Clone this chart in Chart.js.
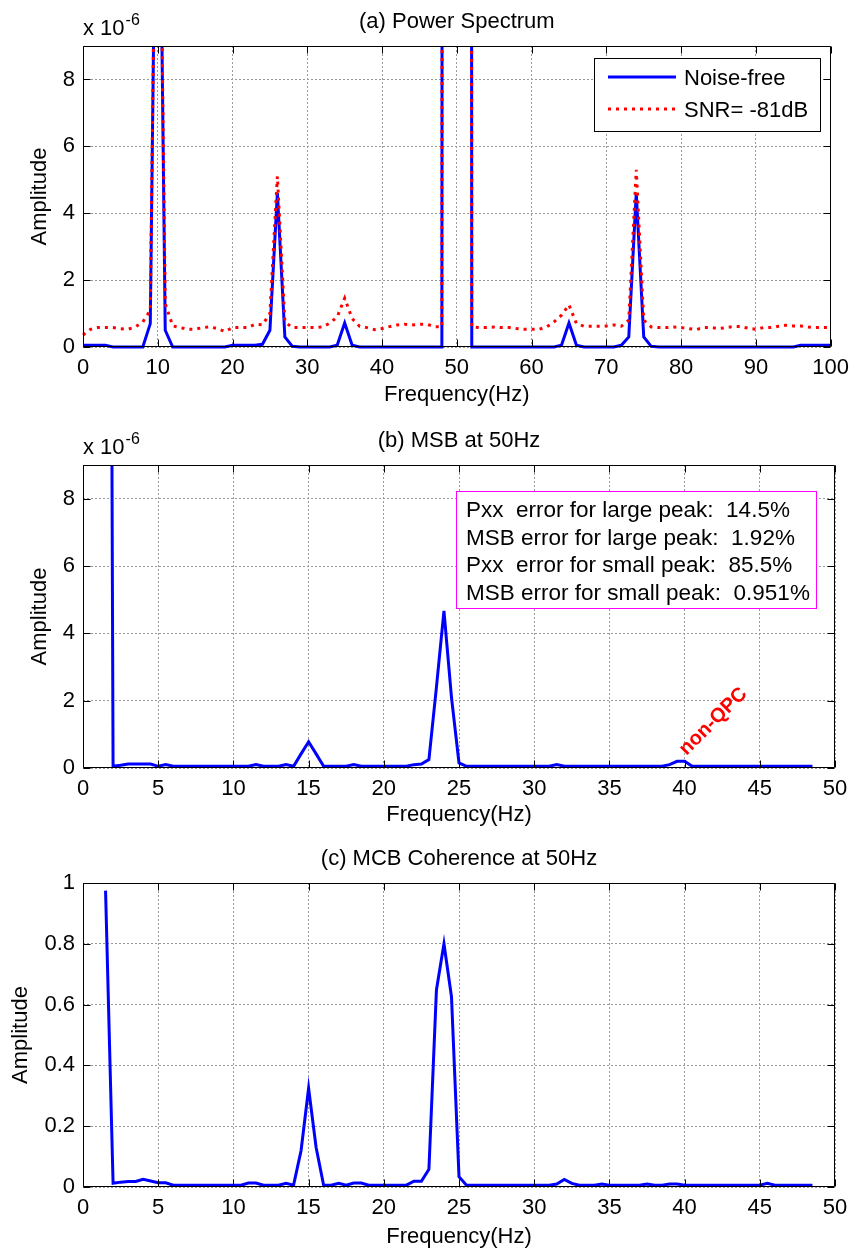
<!DOCTYPE html>
<html>
<head>
<meta charset="utf-8">
<script src="https://cdn.jsdelivr.net/npm/chart.js@4.4.1/dist/chart.umd.min.js"></script>
<style>
body { margin: 0; background: #fff; }
canvas { display: block; }
</style>
</head>
<body>
<canvas id="psChart" width="857" height="409"></canvas>
<canvas id="msbChart" width="857" height="420"></canvas>
<canvas id="mcbChart" width="857" height="422"></canvas>
<script>
// (a) power spectrum, amplitude in units of 1e-6
const freqA = [0,1,2,3,4,5,6,7,8,9,10,11,12,13,14,15,16,17,18,19,20,21,22,23,24,25,26,27,28,29,
  30,31,32,33,34,35,36,37,38,39,40,41,42,43,44,45,46,47,48,49,50,51,52,53,54,55,56,57,58,59,
  60,61,62,63,64,65,66,67,68,69,70,71,72,73,74,75,76,77,78,79,80,81,82,83,84,85,86,87,88,89,
  90,91,92,93,94,95,96,97,98,99,100];
const noiseFree = [
  0.05,0.05,0.05,0.05,0,0,0,0,0,0.7,
  20,0.5,0,0,0,0,0,0,0,0,
  0.05,0.05,0.05,0.05,0.08,0.5,4.6,0.3,0.02,0,
  0,0,0,0,0.05,0.72,0.05,0,0,0,
  0,0,0,0,0,0,0,0,0,400,
  1000,400,0,0,0,0,0,0,0,0,
  0,0,0,0,0.05,0.72,0.05,0,0,0,
  0,0,0.05,0.3,4.6,0.3,0.02,0,0,0,
  0,0,0,0,0,0,0,0,0,0,
  0,0,0,0,0,0,0.05,0.05,0.05,0.05,
  0.05];
const snrNoisy = [
  0.36,0.53,0.58,0.58,0.58,0.55,0.53,0.6,0.75,1.1,
  20,1.3,0.63,0.58,0.53,0.53,0.58,0.6,0.55,0.46,
  0.58,0.58,0.58,0.68,0.66,1.0,5.1,0.75,0.58,0.58,
  0.58,0.58,0.6,0.71,0.9,1.46,0.85,0.62,0.58,0.52,
  0.55,0.61,0.66,0.68,0.66,0.68,0.68,0.61,0.6,400,
  1000,400,0.6,0.58,0.58,0.6,0.58,0.58,0.55,0.53,
  0.53,0.53,0.6,0.75,0.95,1.26,0.7,0.62,0.62,0.62,
  0.63,0.66,0.62,0.8,5.3,0.8,0.6,0.58,0.58,0.6,
  0.58,0.55,0.52,0.58,0.58,0.55,0.58,0.61,0.61,0.56,
  0.53,0.58,0.58,0.62,0.65,0.63,0.63,0.6,0.58,0.58,
  0.58];

// (b) and (c) share the bispectrum frequency axis
const freqB = [1.5,2,2.5,3,3.5,4,4.5,5,5.5,6,6.5,7,7.5,8,8.5,9,9.5,10,10.5,11,
  11.5,12,12.5,13,13.5,14,14.5,15,15.5,16,16.5,17,17.5,18,18.5,19,19.5,20,20.5,21,
  21.5,22,22.5,23,23.5,24,24.5,25,25.5,26,26.5,27,27.5,28,28.5,29,29.5,30,30.5,31,
  31.5,32,32.5,33,33.5,34,34.5,35,35.5,36,36.5,37,37.5,38,38.5,39,39.5,40,40.5,41,
  41.5,42,42.5,43,43.5,44,44.5,45,45.5,46,46.5,47,47.5,48,48.5];
const msbValues = [
  60,0.05,0.08,0.12,0.12,0.12,0.12,0.05,0.1,0.05,
  0.05,0.05,0.05,0.05,0.05,0.05,0.05,0.05,0.05,0.05,
  0.1,0.05,0.05,0.05,0.1,0.05,0.42,0.78,0.42,0.05,
  0.05,0.05,0.05,0.1,0.05,0.05,0.05,0.05,0.05,0.05,
  0.05,0.1,0.12,0.25,2.4,4.67,2.1,0.15,0.05,0.05,
  0.05,0.05,0.05,0.05,0.05,0.05,0.05,0.05,0.05,0.05,
  0.1,0.05,0.05,0.05,0.05,0.05,0.05,0.05,0.05,0.05,
  0.05,0.05,0.05,0.05,0.05,0.1,0.2,0.2,0.05,0.05,
  0.05,0.05,0.05,0.05,0.05,0.05,0.05,0.05,0.05,0.05,
  0.05,0.05,0.05,0.05,0.05];
const mcbValues = [
  0.975,0.012,0.016,0.018,0.018,0.025,0.02,0.014,0.014,0.006,
  0.006,0.006,0.006,0.006,0.006,0.006,0.006,0.006,0.006,0.013,
  0.013,0.006,0.006,0.006,0.012,0.006,0.12,0.325,0.13,0.006,
  0.006,0.012,0.006,0.013,0.013,0.006,0.006,0.006,0.006,0.006,
  0.006,0.019,0.019,0.058,0.648,0.8,0.626,0.034,0.006,0.006,
  0.006,0.006,0.006,0.006,0.006,0.006,0.006,0.006,0.006,0.006,
  0.01,0.025,0.012,0.006,0.006,0.006,0.01,0.006,0.006,0.006,
  0.006,0.006,0.01,0.006,0.006,0.01,0.01,0.006,0.006,0.006,
  0.006,0.006,0.006,0.006,0.006,0.006,0.006,0.006,0.012,0.006,
  0.006,0.006,0.006,0.006,0.006];

const ticksFreqA = [0,10,20,30,40,50,60,70,80,90,100];
const ticksFreqB = [0,5,10,15,20,25,30,35,40,45,50];
const ticksAmp = [0,2,4,6,8];
const ticksCoh = [0,0.2,0.4,0.6,0.8,1];
const legendLabels = ['Noise-free', 'SNR= -81dB'];
const errorLines = [
  'Pxx  error for large peak:  14.5%',
  'MSB error for large peak:  1.92%',
  'Pxx  error for small peak:  85.5%',
  'MSB error for small peak:  0.951%'
];

const FONT = '"Liberation Sans", Arial, sans-serif';
const GRID = '#9a9a9a';
const BLUE = '#0000ff';
const RED = '#ff0000';
const RED_DASH = [3, 5];
Chart.defaults.font.family = FONT;
Chart.defaults.font.size = 22;
Chart.defaults.color = '#000';

function pts(xs, ys) { return xs.map((x, i) => ({ x: x, y: ys[i] })); }

// box, inward ticks, title and exponent like a matlab axes
function axesDecor(title, exponent) {
  return {
    id: 'axesDecor',
    afterDraw(chart) {
      const ctx = chart.ctx, a = chart.chartArea;
      const x = chart.scales.x, y = chart.scales.y;
      const L = Math.round(a.left) + 0.5, R = Math.round(a.right) - 0.5;
      const T = Math.round(a.top) + 0.5, B = Math.round(a.bottom) - 0.5;
      ctx.save();
      ctx.strokeStyle = '#000';
      ctx.lineWidth = 1;
      ctx.beginPath();
      ctx.rect(L, T, R - L, B - T);
      x.ticks.forEach(t => {
        const px = Math.round(x.getPixelForValue(t.value)) + 0.5;
        ctx.moveTo(px, B); ctx.lineTo(px, B - 7);
        ctx.moveTo(px, T); ctx.lineTo(px, T + 7);
      });
      y.ticks.forEach(t => {
        const py = Math.round(y.getPixelForValue(t.value)) + 0.5;
        ctx.moveTo(L, py); ctx.lineTo(L + 7, py);
        ctx.moveTo(R, py); ctx.lineTo(R - 7, py);
      });
      ctx.stroke();
      ctx.fillStyle = '#000';
      ctx.font = '22px ' + FONT;
      ctx.textAlign = 'center';
      ctx.textBaseline = 'middle';
      ctx.fillText(title, (a.left + a.right) / 2, a.top - 24);
      if (exponent) {
        ctx.textAlign = 'left';
        ctx.textBaseline = 'alphabetic';
        ctx.fillText('x 10', a.left, a.top - 11);
        const w = ctx.measureText('x 10').width;
        ctx.font = '16px ' + FONT;
        ctx.fillText('-6', a.left + w + 1, a.top - 21);
      }
      ctx.restore();
    }
  };
}

const legendBox = {
  id: 'legendBox',
  afterDraw(chart) {
    const ctx = chart.ctx, a = chart.chartArea;
    const bw = 226, bh = 73;
    const bx = Math.round(a.right) - 11 - bw, by = Math.round(a.top) + 12;
    ctx.save();
    ctx.fillStyle = '#fff';
    ctx.fillRect(bx, by, bw, bh);
    ctx.strokeStyle = '#000';
    ctx.lineWidth = 1;
    ctx.strokeRect(bx + 0.5, by + 0.5, bw, bh);
    legendLabels.forEach((lab, i) => {
      const ds = chart.data.datasets[i];
      const ly = by + 19 + i * 32;
      ctx.beginPath();
      ctx.strokeStyle = ds.borderColor;
      ctx.lineWidth = ds.borderWidth;
      ctx.setLineDash(ds.borderDash || []);
      ctx.moveTo(bx + 14, ly);
      ctx.lineTo(bx + 82, ly);
      ctx.stroke();
      ctx.setLineDash([]);
      ctx.fillStyle = '#000';
      ctx.font = '22px ' + FONT;
      ctx.textAlign = 'left';
      ctx.textBaseline = 'middle';
      ctx.fillText(lab, bx + 90, ly + 2);
    });
    ctx.restore();
  }
};

const errorBox = {
  id: 'errorBox',
  afterDraw(chart) {
    const ctx = chart.ctx, a = chart.chartArea;
    const bw = 360, bh = 117;
    const bx = Math.round(a.right) - 19 - bw, by = Math.round(a.top) + 26;
    ctx.save();
    ctx.fillStyle = '#fff';
    ctx.fillRect(bx, by, bw, bh);
    ctx.strokeStyle = '#ff00ff';
    ctx.lineWidth = 1;
    ctx.strokeRect(bx + 0.5, by + 0.5, bw, bh);
    ctx.fillStyle = '#000';
    ctx.font = '22.5px ' + FONT;
    ctx.textAlign = 'left';
    ctx.textBaseline = 'middle';
    errorLines.forEach((s, i) => ctx.fillText(s, bx + 10, by + 20 + i * 27.5));
    // red rotated note at the 40 Hz bump
    const px = chart.scales.x.getPixelForValue(40), py = chart.scales.y.getPixelForValue(0);
    ctx.translate(px + 2, py - 12);
    ctx.rotate(-Math.PI / 4);
    ctx.fillStyle = RED;
    ctx.font = 'bold 20px ' + FONT;
    ctx.textBaseline = 'alphabetic';
    ctx.fillText('non-QPC', 0, 0);
    ctx.restore();
  }
};

function panelOptions(o) {
  return {
    responsive: false,
    animation: false,
    devicePixelRatio: 1,
    layout: { padding: { top: o.top, right: 22, bottom: 0, left: 0 } },
    plugins: { legend: { display: false }, tooltip: { enabled: false } },
    scales: {
      x: {
        type: 'linear',
        min: o.xTicks[0],
        max: o.xTicks[o.xTicks.length - 1],
        afterBuildTicks: s => { s.ticks = o.xTicks.map(v => ({ value: v })); },
        afterFit: s => { s.height = o.xHeight; },
        grid: { color: GRID, drawTicks: false },
        border: { display: false, dash: [2, 2] },
        ticks: { padding: 8, maxRotation: 0, autoSkip: false, callback: v => String(v) },
        title: { display: true, text: 'Frequency(Hz)', padding: { top: 0, bottom: 1 } }
      },
      y: {
        min: o.yMin,
        max: o.yMax,
        afterBuildTicks: s => { s.ticks = o.yTicks.map(v => ({ value: v })); },
        afterFit: s => { s.width = 83; },
        grid: { color: GRID, drawTicks: false },
        border: { display: false, dash: [2, 2] },
        ticks: { padding: 8, autoSkip: false, callback: v => String(v) },
        title: { display: true, text: 'Amplitude', padding: { top: o.yTitlePad, bottom: 0 } }
      }
    }
  };
}

function line(xs, ys, color, order, dash) {
  return {
    data: pts(xs, ys),
    borderColor: color,
    borderWidth: 3,
    borderDash: dash || [],
    pointRadius: 0,
    tension: 0,
    fill: false,
    order: order,
    clip: { left: 2, top: 0, right: 2, bottom: 3 }
  };
}

new Chart(document.getElementById('psChart'), {
  type: 'line',
  data: {
    datasets: [
      line(freqA, noiseFree, BLUE, 1),
      line(freqA, snrNoisy, RED, 0, RED_DASH)
    ]
  },
  options: panelOptions({ top: 46, xHeight: 62, xTicks: ticksFreqA, yMin: 0, yMax: 9, yTicks: ticksAmp, yTitlePad: 27 }),
  plugins: [axesDecor('(a) Power Spectrum', true), legendBox]
});

new Chart(document.getElementById('msbChart'), {
  type: 'line',
  data: { datasets: [line(freqB, msbValues, BLUE, 0)] },
  options: panelOptions({ top: 56, xHeight: 61, xTicks: ticksFreqB, yMin: 0, yMax: 9, yTicks: ticksAmp, yTitlePad: 27 }),
  plugins: [axesDecor('(b) MSB at 50Hz', true), errorBox]
});

new Chart(document.getElementById('mcbChart'), {
  type: 'line',
  data: { datasets: [line(freqB, mcbValues, BLUE, 0)] },
  options: panelOptions({ top: 54, xHeight: 64, xTicks: ticksFreqB, yMin: 0, yMax: 1, yTicks: ticksCoh, yTitlePad: 8 }),
  plugins: [axesDecor('(c) MCB Coherence at 50Hz', false)]
});
</script>
</body>
</html>
